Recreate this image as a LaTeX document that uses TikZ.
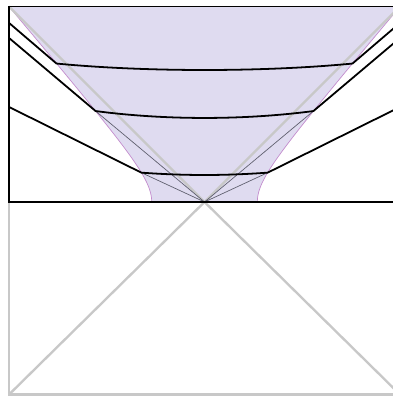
\documentclass[tikz,border=0pt]{standalone}
\definecolor{regfill}{RGB}{223,219,240}
\definecolor{regedge}{RGB}{195,140,205}
\definecolor{horgray}{RGB}{200,200,200}
\definecolor{raygray}{RGB}{95,95,110}
\tikzset{
  horizon/.style={draw=horgray, line width=1.7pt},
  slice/.style={draw=black, line width=1.3pt, line join=round},
  ray/.style={draw=raygray, line width=0.5pt},
  frame/.style={draw=black, line width=1.3pt},
  edge/.style={draw=regedge, line width=0.5pt}
}
\begin{document}
\begin{tikzpicture}[x=5cm,y=5cm]
\useasboundingbox (-1.046,-1.0026) rectangle (0.964,1.033);
\begin{scope}
\clip (-1.046,-1.0026) rectangle (0.964,1.033);
% named points
\coordinate (O) at (0,0);
\coordinate (TL) at (-1,1);
\coordinate (TR) at (1,1);
\coordinate (BL) at (-1,-0.985);
\coordinate (BR) at (1,-0.985);
\coordinate (ML) at (-1,0);
\coordinate (MR) at (1,0);
% kinks (on the region boundary)
\coordinate (k1l) at (-0.757,0.708);
\coordinate (k2l) at (-0.557,0.465);
\coordinate (k3l) at (-0.323,0.150);
\coordinate (k1r) at (0.757,0.708);
\coordinate (k2r) at (0.557,0.465);
\coordinate (k3r) at (0.323,0.150);
% edge ends
\coordinate (e1l) at (-1,0.916);
\coordinate (e2l) at (-1,0.839);
\coordinate (e3l) at (-1,0.486);
\coordinate (e1r) at (1,0.916);
\coordinate (e2r) at (1,0.839);
\coordinate (e3r) at (1,0.486);
% region
\fill[regfill] (TL) -- (TR)
  -- plot[domain=1:0,samples=60,variable=\t] ({0.27+0.848*(sqrt(\t*\t+0.0225)-0.15)},{\t})
  -- plot[domain=0:1,samples=60,variable=\t] ({-0.27-0.848*(sqrt(\t*\t+0.0225)-0.15)},{\t}) -- cycle;
\draw[edge] plot[domain=1:0,samples=60,variable=\t] ({0.27+0.848*(sqrt(\t*\t+0.0225)-0.15)},{\t});
\draw[edge] plot[domain=0:1,samples=60,variable=\t] ({-0.27-0.848*(sqrt(\t*\t+0.0225)-0.15)},{\t});
% horizons and lower boundary
\draw[horizon] (TL) -- (O) -- (BR);
\draw[horizon] (TR) -- (O) -- (BL);
\draw[horizon] (ML) -- (BL) -- (BR) -- (MR);
% rays to centre
\draw[ray] (k2l) -- (O);
\draw[ray] (k3l) -- (O);
\draw[ray] (k2r) -- (O);
\draw[ray] (k3r) -- (O);
% slices
\draw[slice] (e1l) -- (k1l) .. controls (-0.3,0.664) and (0.3,0.664) .. (k1r) -- (e1r);
\draw[slice] (e2l) -- (k2l) .. controls (-0.2,0.418) and (0.2,0.418) .. (k2r) -- (e2r);
\draw[slice] (e3l) -- (k3l) .. controls (-0.1,0.134) and (0.1,0.134) .. (k3r) -- (e3r);
% frame
\draw[frame] (MR) -- (ML) -- (TL) -- (TR) -- (MR);
\end{scope}
\end{tikzpicture}
\end{document}
